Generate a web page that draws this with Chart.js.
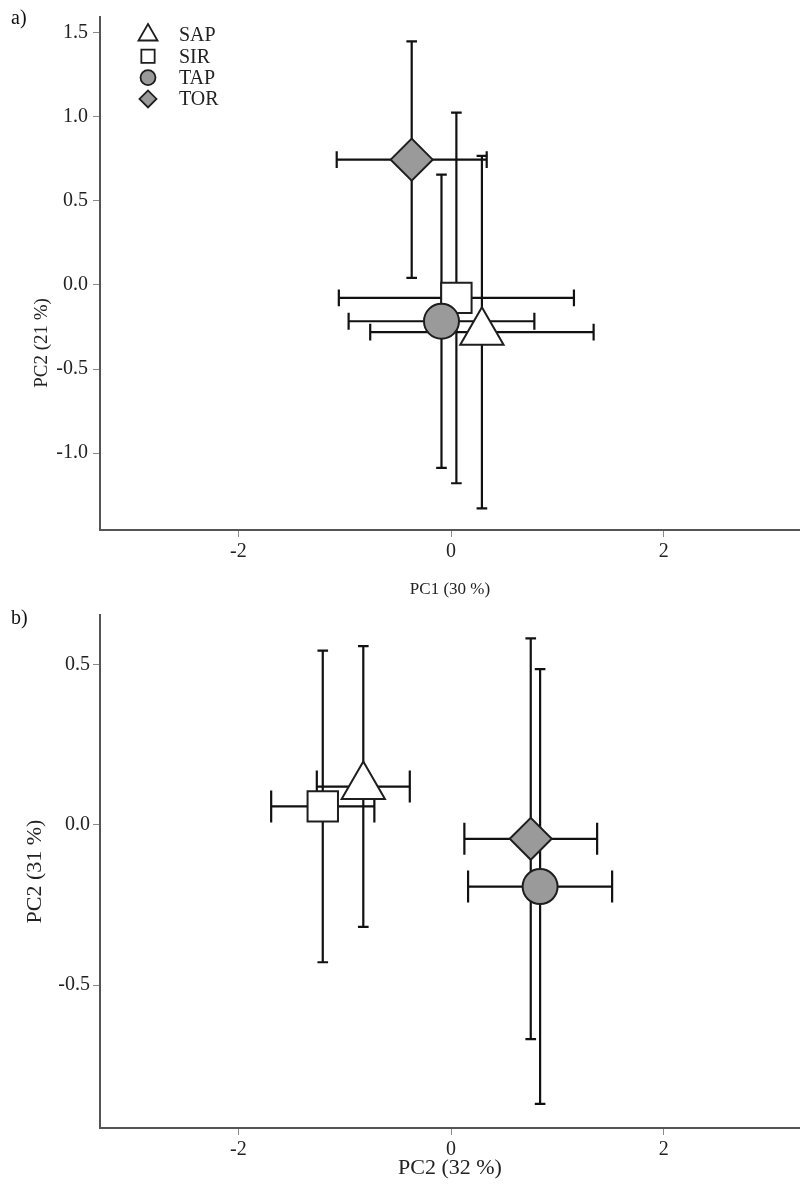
<!DOCTYPE html>
<html>
<head>
<meta charset="utf-8">
<script src="https://cdn.jsdelivr.net/npm/chart.js@4.4.1/dist/chart.umd.min.js"></script>
<style>
  html, body { margin: 0; padding: 0; background: #fff; }
  #wrap { position: relative; width: 800px; height: 1188px; overflow: hidden; }
  canvas { position: absolute; left: 0; }
  #chartA { top: 0; }
  #chartB { top: 600px; }
  .panel { position: absolute; left: 11px; font: 20px 'Liberation Serif', 'Times New Roman', serif; line-height: 20px; color: #111; }
</style>
</head>
<body>
<div id="wrap">
  <canvas id="chartA" width="800" height="600"></canvas>
  <canvas id="chartB" width="800" height="588"></canvas>
  <div class="panel" style="top:7px">a)</div>
  <div class="panel" style="top:607px">b)</div>
</div>
<script>
// Groups
const groups = ['SAP', 'SIR', 'TAP', 'TOR'];

// Panel a: group means and standard deviations on PC1 / PC2
const aPC1 = [0.29, 0.05, -0.09, -0.37];
const aPC1sd = [1.05, 1.105, 0.873, 0.705];
const aPC2 = [-0.281, -0.077, -0.216, 0.745];
const aPC2sd = [1.048, 1.102, 0.872, 0.703];

// Panel b: group means and standard deviations
const bX = [-0.825, -1.206, 0.837, 0.749];
const bXsd = [0.437, 0.485, 0.677, 0.624];
const bY = [0.119, 0.057, -0.193, -0.044];
const bYsd = [0.438, 0.486, 0.678, 0.625];

// Tick values
const xTicks = [-2, 0, 2];
const aYTicks = [-1.0, -0.5, 0.0, 0.5, 1.0, 1.5];
const bYTicks = [-0.5, 0.0, 0.5];

// Marker appearance per group
const markerStyle = ['triangle', 'rect', 'circle', 'rectRot'];
const markerFill = ['#ffffff', '#ffffff', '#9a9a9a', '#9a9a9a'];
const markerRadius = [25, 21.5, 17.5, 21];
const drawOrder = [0, 2, 1, 3];
const legendRadius = [11, 9.4, 7.5, 8.5];

const SERIF = "'Liberation Serif', 'Times New Roman', serif";
const INK = '#1e1e1e';

// Mean ± SD whiskers with caps, drawn beneath the markers
const errorBars = {
  id: 'errorBars',
  beforeDatasetsDraw(chart, args, opts) {
    const { ctx, scales: { x, y } } = chart;
    const cap = opts.cap;
    ctx.save();
    ctx.strokeStyle = opts.color;
    ctx.lineWidth = opts.width;
    chart.data.datasets.forEach(ds => ds.data.forEach(p => {
      const px = x.getPixelForValue(p.x);
      const py = y.getPixelForValue(p.y);
      const x0 = x.getPixelForValue(p.x - p.sx);
      const x1 = x.getPixelForValue(p.x + p.sx);
      const y0 = y.getPixelForValue(p.y - p.sy);
      const y1 = y.getPixelForValue(p.y + p.sy);
      const cyA = y.getPixelForValue(p.y + cap), cyB = y.getPixelForValue(p.y - cap);
      const cxA = x.getPixelForValue(p.x - cap), cxB = x.getPixelForValue(p.x + cap);
      ctx.beginPath();
      ctx.moveTo(x0, py); ctx.lineTo(x1, py);
      ctx.moveTo(px, y0); ctx.lineTo(px, y1);
      ctx.moveTo(x0, cyA); ctx.lineTo(x0, cyB);
      ctx.moveTo(x1, cyA); ctx.lineTo(x1, cyB);
      ctx.moveTo(cxA, y0); ctx.lineTo(cxB, y0);
      ctx.moveTo(cxA, y1); ctx.lineTo(cxB, y1);
      ctx.stroke();
    }));
    ctx.restore();
  }
};

// Small key in the upper-left corner of the plot
const insetLegend = {
  id: 'insetLegend',
  afterDatasetsDraw(chart, args, opts) {
    if (!opts.show) return;
    const ctx = chart.ctx;
    ctx.save();
    chart.data.datasets.forEach((ds, i) => {
      const cy = opts.y + i * opts.rowGap;
      ctx.fillStyle = ds.backgroundColor;
      ctx.strokeStyle = ds.borderColor;
      ctx.lineWidth = opts.borderWidth;
      Chart.helpers.drawPoint(ctx, {
        pointStyle: ds.pointStyle, radius: opts.radius[i],
        borderWidth: opts.borderWidth, rotation: 0
      }, opts.x, cy);
      ctx.fillStyle = opts.color;
      ctx.font = opts.font;
      ctx.textAlign = 'left';
      ctx.textBaseline = 'middle';
      ctx.fillText(ds.label, opts.textX, cy + 1);
    });
    ctx.restore();
  }
};

// Vertical axis caption placed at a chosen height beside the y axis
const sideTitle = {
  id: 'sideTitle',
  afterDraw(chart, args, opts) {
    if (!opts.text) return;
    const ctx = chart.ctx;
    ctx.save();
    ctx.translate(opts.x, opts.y);
    ctx.rotate(-Math.PI / 2);
    ctx.fillStyle = opts.color;
    ctx.font = opts.font;
    ctx.textAlign = 'center';
    ctx.textBaseline = 'middle';
    ctx.fillText(opts.text, 0, 0);
    ctx.restore();
  }
};

function buildDatasets(xs, xsd, ys, ysd) {
  return groups.map((g, i) => ({
    label: g,
    data: [{ x: xs[i], y: ys[i], sx: xsd[i], sy: ysd[i] }],
    pointStyle: markerStyle[i],
    pointRadius: markerRadius[i],
    pointHoverRadius: markerRadius[i],
    backgroundColor: markerFill[i],
    borderColor: INK,
    borderWidth: 2,
    order: drawOrder[i]
  }));
}

function axisCommon() {
  return {
    type: 'linear',
    grid: { display: true, drawOnChartArea: false, drawTicks: true, tickLength: 7, color: '#8a8a8a', lineWidth: 1 },
    border: { display: true, color: '#555555', width: 2 }
  };
}

function makeChart(id, cfg) {
  return new Chart(document.getElementById(id), {
    type: 'scatter',
    data: { datasets: buildDatasets(cfg.xs, cfg.xsd, cfg.ys, cfg.ysd) },
    options: {
      responsive: false,
      animation: false,
      devicePixelRatio: 1,
      layout: { autoPadding: false, padding: { top: cfg.padTop, left: 0, right: 0, bottom: 0 } },
      plugins: {
        legend: { display: false },
        tooltip: { enabled: false },
        errorBars: { color: '#111111', width: 2.2, cap: 0.05 },
        insetLegend: {
          show: cfg.legend, x: 148, y: 35, rowGap: 21.3, textX: 179,
          radius: legendRadius, borderWidth: 1.8, color: '#222222',
          font: '20px ' + SERIF
        },
        sideTitle: cfg.sideTitle || {}
      },
      scales: {
        x: Object.assign(axisCommon(), {
          min: -3.3, max: 3.28,
          afterBuildTicks: s => { s.ticks = xTicks.map(v => ({ value: v })); },
          afterFit: s => { s.height = cfg.xAxisHeight; },
          ticks: { padding: 3, color: '#222', font: { family: SERIF, size: 20 }, callback: v => String(v) },
          title: { display: true, text: cfg.xTitle, color: '#222', font: { family: SERIF, size: cfg.xTitleSize }, padding: { top: 0, bottom: cfg.xTitlePad } }
        }),
        y: Object.assign(axisCommon(), {
          min: cfg.yMin, max: cfg.yMax,
          afterBuildTicks: s => { s.ticks = cfg.yTicks.map(v => ({ value: v })); },
          afterFit: s => { s.width = 100; },
          ticks: { padding: cfg.yTickPad, color: '#222', font: { family: SERIF, size: 20 }, callback: v => Number(v).toFixed(1) },
          title: { display: !cfg.sideTitle, text: cfg.yTitle, color: '#222', font: { family: SERIF, size: cfg.yTitleSize }, padding: { top: cfg.yTitlePad, bottom: 0 } }
        })
      }
    },
    plugins: [errorBars, insetLegend, sideTitle]
  });
}

makeChart('chartA', {
  xs: aPC1, xsd: aPC1sd, ys: aPC2, ysd: aPC2sd,
  padTop: 15, xAxisHeight: 70, legend: true,
  yMin: -1.457, yMax: 1.593, yTicks: aYTicks, yTickPad: 5,
  xTitle: 'PC1 (30 %)', xTitleSize: 17, xTitlePad: 0,
  yTitle: 'PC2 (21 %)', yTitleSize: 19, yTitlePad: 30,
  sideTitle: { text: 'PC2 (21 %)', x: 42, y: 343, color: '#222', font: '19px ' + SERIF }
});

makeChart('chartB', {
  xs: bX, xsd: bXsd, ys: bY, ysd: bYsd,
  padTop: 13, xAxisHeight: 60, legend: false,
  yMin: -0.946, yMax: 0.654, yTicks: bYTicks, yTickPad: 3,
  xTitle: 'PC2 (32 %)', xTitleSize: 22, xTitlePad: 7,
  yTitle: 'PC2 (31 %)', yTitleSize: 22, yTitlePad: 22
});
</script>
</body>
</html>
